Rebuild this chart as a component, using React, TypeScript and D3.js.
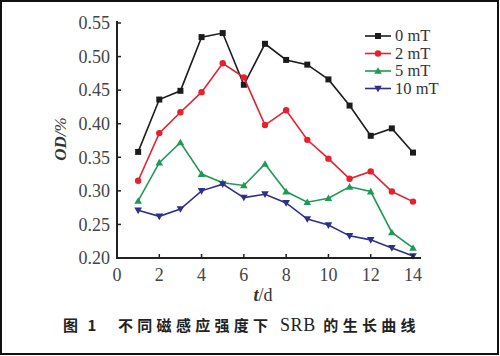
import React from "react";
import * as d3 from "d3";

const days = [1, 2, 3, 4, 5, 6, 7, 8, 9, 10, 11, 12, 13, 14];
const od0 = [0.358, 0.436, 0.449, 0.529, 0.535, 0.458, 0.519, 0.495, 0.488, 0.466, 0.427, 0.382, 0.393, 0.357];
const od2 = [0.315, 0.386, 0.417, 0.447, 0.490, 0.469, 0.398, 0.420, 0.376, 0.348, 0.318, 0.329, 0.299, 0.284];
const od5 = [0.285, 0.342, 0.372, 0.325, 0.312, 0.308, 0.340, 0.299, 0.283, 0.289, 0.306, 0.299, 0.238, 0.215];
const od10 = [0.271, 0.262, 0.273, 0.300, 0.310, 0.290, 0.295, 0.282, 0.258, 0.249, 0.233, 0.227, 0.215, 0.203];
const seriesNames = ["0 mT", "2 mT", "5 mT", "10 mT"];
const seriesColors = ["#1c1c1c", "#e8202e", "#1f9a55", "#2f2f8c"];
const seriesShapes = ["square", "circle", "up", "down"];
const xTicks = [0, 2, 4, 6, 8, 10, 12, 14];
const yTicks = [0.2, 0.25, 0.3, 0.35, 0.4, 0.45, 0.5, 0.55];

const W = 500, H = 356;
const x = d3.scaleLinear().domain([0, 14]).range([117, 413]);
const y = d3.scaleLinear().domain([0.2, 0.55]).range([258, 23]);
const xEnd = 421;

function Marker({ shape, cx, cy, color }: { shape: string; cx: number; cy: number; color: string }) {
  if (shape === "square") return <rect x={cx - 3} y={cy - 3} width={6} height={6} fill={color} />;
  if (shape === "circle") return <circle cx={cx} cy={cy} r={3.2} fill={color} />;
  const s = 3.8;
  if (shape === "up")
    return <path d={`M${cx},${cy - s} L${cx + s},${cy + s * 0.75} L${cx - s},${cy + s * 0.75} Z`} fill={color} />;
  return <path d={`M${cx},${cy + s} L${cx + s},${cy - s * 0.75} L${cx - s},${cy - s * 0.75} Z`} fill={color} />;
}

const serif = "Liberation Serif, DejaVu Serif, Times New Roman, serif";
const cjk = "Noto Sans CJK SC, sans-serif";

export default function App() {
  const all = [od0, od2, od5, od10];
  const line = d3.line<number>().x((_, i) => x(days[i])).y((v) => y(v));
  const legendY = [36, 53.5, 71, 88.5];
  return (
    <svg width={W} height={H} style={{ position: "absolute", left: 0, top: 0, background: "#fff" }}>
      <rect x={1} y={1} width={497} height={353} fill="#fff" stroke="#111" strokeWidth={2} />
      {all.map((vals, si) => (
        <g key={si}>
          <path d={line(vals) || ""} fill="none" stroke={seriesColors[si]} strokeWidth={1.6} />
          {vals.map((v, i) => (
            <Marker key={i} shape={seriesShapes[si]} cx={x(days[i])} cy={y(v)} color={seriesColors[si]} />
          ))}
        </g>
      ))}
      <line x1={x(0)} x2={x(0)} y1={21} y2={259} stroke="#222" strokeWidth={2} />
      <line x1={x(0) - 1} x2={xEnd} y1={258} y2={258} stroke="#222" strokeWidth={2} />
      <g style={{ fontFamily: serif }}>
        {yTicks.map((t) => (
          <g key={t}>
            <line x1={x(0)} x2={x(0) + 4} y1={y(t)} y2={y(t)} stroke="#222" strokeWidth={1.5} />
            <text x={110} y={y(t)} dy="0.35em" textAnchor="end" fontSize={18} fill="#444">
              {t.toFixed(2)}
            </text>
          </g>
        ))}
        {xTicks.map((t) => (
          <g key={t}>
            <line x1={x(t)} x2={x(t)} y1={258} y2={254} stroke="#222" strokeWidth={1.5} />
            <text x={x(t)} y={281} textAnchor="middle" fontSize={18} fill="#444">
              {t}
            </text>
          </g>
        ))}
        <text x={263} y={301} textAnchor="middle" fontSize={18} fill="#333">
          <tspan fontStyle="italic" fontWeight="bold">t</tspan>
          <tspan>/d</tspan>
        </text>
        <text transform={`translate(66,139) rotate(-90)`} textAnchor="middle" fontSize={17} fill="#333" fontStyle="italic">
          <tspan fontWeight="bold">OD</tspan>
          <tspan>/%</tspan>
        </text>
        {seriesNames.map((n, i) => (
          <g key={n}>
            <line x1={365} x2={391} y1={legendY[i]} y2={legendY[i]} stroke={seriesColors[i]} strokeWidth={1.6} />
            <Marker shape={seriesShapes[i]} cx={378} cy={legendY[i]} color={seriesColors[i]} />
            <text x={395} y={legendY[i]} dy="0.33em" fontSize={16.5} fill="#333">
              {n}
            </text>
          </g>
        ))}
      </g>
      <text x={63} y={331} style={{ fontFamily: cjk }} fontSize={15} fontWeight="bold" fill="#222" letterSpacing={3}>
        图 1
      </text>
      <text x={118} y={331} style={{ fontFamily: cjk }} fontSize={15} fontWeight="bold" fill="#222" letterSpacing={4.3}>
        <tspan>不同磁感应强度下 </tspan>
        <tspan style={{ fontFamily: serif }} fontWeight="normal" fontSize={18} letterSpacing={0.5}>SRB</tspan>
        <tspan> 的生长曲线</tspan>
      </text>
    </svg>
  );
}
